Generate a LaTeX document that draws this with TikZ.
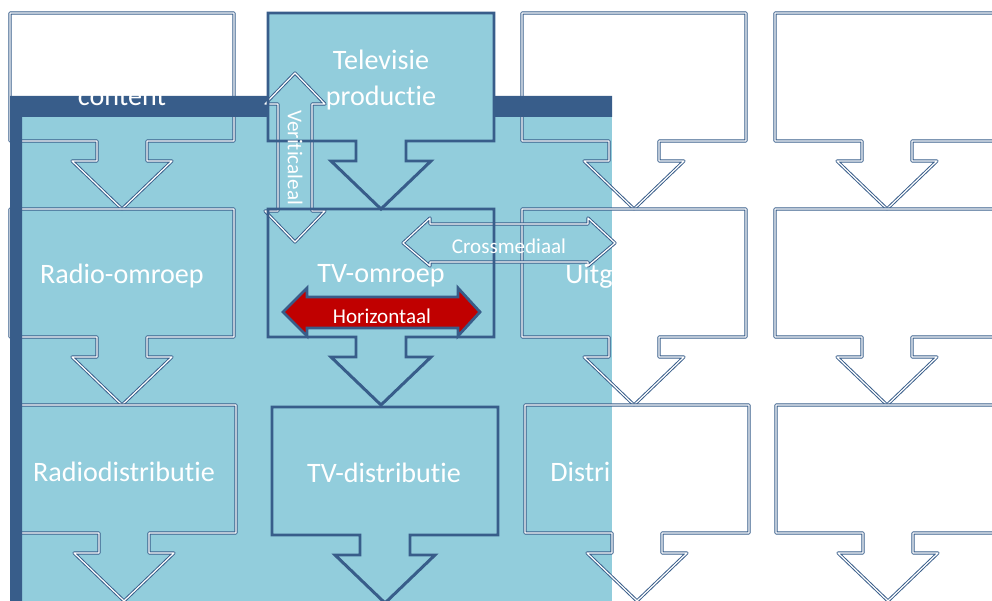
\documentclass[tikz,border=0pt]{standalone}
\usepackage{fontspec}
\setmainfont[Ligatures=NoCommon]{Carlito}
\usepackage{tikz}
\usepackage{xcolor}
\definecolor{lichtblauw}{HTML}{92CDDC}
\definecolor{donkerblauw}{HTML}{385D8A}
\definecolor{rood}{HTML}{C00000}

\begin{document}
\begin{tikzpicture}[x=0.02cm,y=-0.02cm,
  dubbel/.style={draw=donkerblauw,double=white,double distance=0.7pt,line width=0.55pt,line join=round},
  tvvak/.style={draw=donkerblauw,line width=1.7pt,line join=miter},
  vaktekst/.style={text=white,font=\fontsize{16}{20}\selectfont,align=center,inner sep=0pt},
  pijltekst/.style={text=white,font=\fontsize{12}{14}\selectfont,inner sep=0pt}]
\useasboundingbox (0,0) rectangle (992,601);
\fill [lichtblauw] (10,96) rectangle (612,601);

% gewone blokken met pijl naar beneden
\foreach \cx/\ty in {122/13,122/209,124/405,634/13,634/209,637/405,887/13,887/209,888/405}
  \draw [dubbel] (\cx,\ty) ++(-112,0) -- ++(224,0) -- ++(0,128) -- ++(-87,0) -- ++(0,20) -- ++(25,0) -- ++(-50,48) -- ++(-50,-48) -- ++(25,0) -- ++(0,-20) -- ++(-87,0) -- cycle;

% donkere rand
\fill [donkerblauw] (10,96) -- (612,96) -- (612,117) -- (22,117) -- (22,601) -- (10,601) -- cycle;
\node [vaktekst] (content) at (122,97) {content};

% televisie kolom
\foreach \cx/\ty in {381/13,381/209,385/407}
  \fill [lichtblauw] (\cx,\ty) ++(-113,0) -- ++(226,0) -- ++(0,128) -- ++(-88,0) -- ++(0,20) -- ++(25,0) -- ++(-50,48) -- ++(-50,-48) -- ++(25,0) -- ++(0,-20) -- ++(-88,0) -- cycle;

% verticaal en crossmediaal
\draw [dubbel] (295,73) -- (325,104) -- (312,104) -- (312,211) -- (325,211) -- (295,242) -- (265,211) -- (278,211) -- (278,104) -- (265,104) -- cycle;
\draw [dubbel] (403,243) -- (430,218) -- (430,224) -- (588,224) -- (588,218) -- (615,243) -- (588,266) -- (588,262) -- (430,262) -- (430,266) -- cycle;

\foreach \cx/\ty in {381/13,381/209,385/407}
  \draw [tvvak] (\cx,\ty) ++(-113,0) -- ++(226,0) -- ++(0,128) -- ++(-88,0) -- ++(0,20) -- ++(25,0) -- ++(-50,48) -- ++(-50,-48) -- ++(25,0) -- ++(0,-20) -- ++(-88,0) -- cycle;

% horizontaal
\draw [donkerblauw,fill=rood,line width=1.6pt,line join=miter] (283,312) -- (307,288) -- (307,297) -- (458,297) -- (458,288) -- (480,312) -- (458,336) -- (458,328) -- (307,328) -- (307,336) -- cycle;

\node [vaktekst] (tvprod) at (381,80) {Televisie\\productie};
\node [vaktekst] (radioomroep) at (122,276) {Radio-omroep};
\node [vaktekst] (tvomroep) at (381,276) {TV-omroep};
\node [vaktekst,anchor=west] (uitg) at (565,276) {Uitg};
\node [vaktekst] (radiodistr) at (124,472) {Radiodistributie};
\node [vaktekst] (tvdistr) at (384,473) {TV-distributie};
\node [vaktekst,anchor=west] (distri) at (550,472) {Distri};

\node [pijltekst,rotate=-90,anchor=west] (verticaal) at (295,110) {Veriticaleal};
\node [pijltekst] (crossmedia) at (509,246) {Crossmediaal};
\node [pijltekst] (horizontaal) at (382,316) {Horizontaal};

\end{tikzpicture}
\end{document}
